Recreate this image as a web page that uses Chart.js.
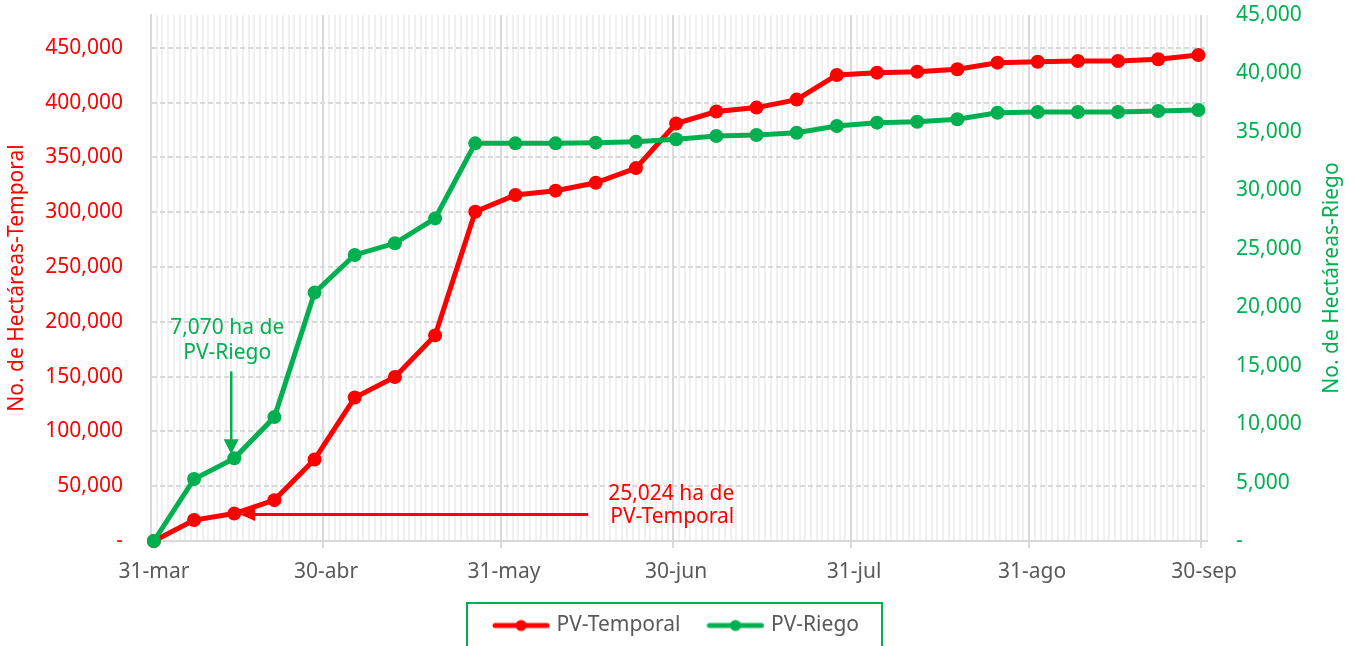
<!DOCTYPE html>
<html>
<head>
<meta charset="utf-8">
<script src="https://cdn.jsdelivr.net/npm/chart.js@4/dist/chart.umd.min.js"></script>
<style>
html,body{margin:0;padding:0;background:#ffffff;}
#wrap{width:1355px;height:646px;overflow:hidden;}
</style>
</head>
<body>
<div id="wrap"><canvas id="c" width="1355" height="646"></canvas></div>
<script>
// ---- data (days counted from 31-mar) ----
const monthEndDays   = [0, 30, 61, 91, 122, 153, 183];
const monthEndLabels = ['31-mar', '30-abr', '31-may', '30-jun', '31-jul', '31-ago', '30-sep'];
const pointDays = [0, 7, 14, 21, 28, 35, 42, 49, 56, 63, 70, 77, 84, 91, 98, 105, 112, 119, 126, 133, 140, 147, 154, 161, 168, 175, 182];
const temporal = [0, 19100, 25024, 37300, 74400, 130900, 149600, 187600, 300500, 315700, 319700, 326900, 340300, 381000, 391900, 395500, 402800, 425300, 427400, 428300, 430500, 436500, 437400, 438000, 438000, 439600, 443500];
const riego    = [0, 5300, 7070, 10600, 21250, 24470, 25470, 27600, 34020, 34020, 34020, 34080, 34160, 34370, 34650, 34730, 34930, 35500, 35790, 35870, 36080, 36640, 36700, 36700, 36700, 36790, 36870];
const leftTicks  = [0, 50000, 100000, 150000, 200000, 250000, 300000, 350000, 400000, 450000];
const rightTicks = [0, 5000, 10000, 15000, 20000, 25000, 30000, 35000, 40000, 45000];
const seriesNames = ['PV-Temporal', 'PV-Riego'];
const leftAxisTitle = 'No. de Hectáreas-Temporal';
const rightAxisTitle = 'No. de Hectáreas-Riego';
const noteRiego = {day: 14, value: 7070, lines: ['7,070 ha de', 'PV-Riego']};
const noteTemporal = {day: 14, value: 25024, lines: ['25,024 ha de', 'PV-Temporal']};

const RED = '#ff0000', GREEN = '#00b050', GRAY = '#595959', GRID = '#d9d9d9', MINOR = '#f0f0f0';
const FONT = "'Noto Sans', 'Open Sans', sans-serif";
const FS = 21;
Chart.defaults.font.family = FONT;
Chart.defaults.font.size = FS;

const monthEndSet = new Set(monthEndDays);
const fmt = v => v === 0 ? '-' : Number(v).toLocaleString('en-US');

function legendImg(color) {
  const c = document.createElement('canvas');
  c.width = 58; c.height = 14;
  const g = c.getContext('2d');
  g.strokeStyle = color; g.lineWidth = 5; g.lineCap = 'round';
  g.beginPath(); g.moveTo(3, 7); g.lineTo(55, 7); g.stroke();
  g.fillStyle = color;
  g.beginPath(); g.arc(29, 7, 5.5, 0, Math.PI * 2); g.fill();
  return c;
}
const legendImgs = [legendImg(RED), legendImg(GREEN)];

const isMajor = v => monthEndSet.has(Math.round(v + 0.5));

const annotPlugin = {
  id: 'annot',
  afterDraw(chart) {
    const ctx = chart.ctx;
    const xs = chart.scales.x, yl = chart.scales.y, yr = chart.scales.y1;
    const area = chart.chartArea;
    ctx.save();
    // green note
    let px = xs.getPixelForValue(noteRiego.day), py = yr.getPixelForValue(noteRiego.value);
    ctx.strokeStyle = GREEN; ctx.fillStyle = GREEN; ctx.lineWidth = 2.5;
    const ax = px - 3;
    ctx.beginPath(); ctx.moveTo(ax, py - 87); ctx.lineTo(ax, py - 16); ctx.stroke();
    ctx.beginPath(); ctx.moveTo(ax - 7.5, py - 19); ctx.lineTo(ax + 7.5, py - 19); ctx.lineTo(ax, py - 4); ctx.closePath(); ctx.fill();
    ctx.font = FS + 'px ' + FONT; ctx.textAlign = 'center'; ctx.textBaseline = 'middle';
    ctx.fillText(noteRiego.lines[0], px - 7, py - 130);
    ctx.fillText(noteRiego.lines[1], px - 7, py - 105);
    // red note
    px = xs.getPixelForValue(noteTemporal.day); py = yl.getPixelForValue(noteTemporal.value);
    ctx.strokeStyle = RED; ctx.fillStyle = RED; ctx.lineWidth = 3;
    const ay = py + 1;
    ctx.beginPath(); ctx.moveTo(px + 354, ay); ctx.lineTo(px + 18, ay); ctx.stroke();
    ctx.beginPath(); ctx.moveTo(px + 21, ay - 6.5); ctx.lineTo(px + 21, ay + 6.5); ctx.lineTo(px + 6, ay); ctx.closePath(); ctx.fill();
    ctx.fillText(noteTemporal.lines[0], px + 437, py - 20);
    ctx.fillText(noteTemporal.lines[1], px + 438, py + 3);
    // right axis title (reads bottom to top)
    ctx.fillStyle = GREEN;
    ctx.translate(yr.right - 23, (area.top + area.bottom) / 2);
    ctx.rotate(-Math.PI / 2);
    ctx.fillText(rightAxisTitle, 0, 0);
    ctx.restore();
    // legend frame
    const lg = chart.legend;
    if (lg && lg.legendHitBoxes && lg.legendHitBoxes.length) {
      const hb = lg.legendHitBoxes;
      const l = Math.min(...hb.map(h => h.left));
      const r = Math.max(...hb.map(h => h.left + h.width));
      const cx = (l + r) / 2 - 3;
      ctx.save();
      ctx.strokeStyle = GREEN; ctx.lineWidth = 2;
      ctx.strokeRect(cx - 207.5, lg.top + 18, 415, 80);
      ctx.restore();
    }
  }
};

new Chart(document.getElementById('c'), {
  type: 'line',
  data: {
    datasets: [
      {
        label: seriesNames[0],
        data: pointDays.map((d, i) => ({x: d, y: temporal[i]})),
        yAxisID: 'y',
        borderColor: RED, backgroundColor: RED,
        pointBackgroundColor: RED, pointBorderWidth: 0,
        borderWidth: 5, pointRadius: 7, tension: 0, clip: false, order: 2
      },
      {
        label: seriesNames[1],
        data: pointDays.map((d, i) => ({x: d, y: riego[i]})),
        yAxisID: 'y1',
        borderColor: GREEN, backgroundColor: GREEN,
        pointBackgroundColor: GREEN, pointBorderWidth: 0,
        borderWidth: 5, pointRadius: 7, tension: 0, clip: false, order: 1
      }
    ]
  },
  options: {
    responsive: false,
    animation: false,
    devicePixelRatio: 1,
    layout: {padding: {top: 15, left: 0, right: 0, bottom: 0}},
    plugins: {
      tooltip: {enabled: false},
      legend: {
        position: 'bottom',
        labels: {
          usePointStyle: true,
          pointStyleWidth: 50,
          padding: 30,
          color: GRAY,
          font: {size: FS, family: FONT},
          generateLabels: (chart) => chart.data.datasets.map((ds, i) => ({
            text: ds.label, fillStyle: ds.borderColor, strokeStyle: ds.borderColor,
            lineWidth: 0, pointStyle: legendImgs[i], datasetIndex: i, hidden: false, fontColor: GRAY
          }))
        }
      }
    },
    scales: {
      x: {
        type: 'linear',
        min: -0.5,
        max: 183.5,
        afterBuildTicks: (axis) => {
          const t = [];
          for (let k = 0; k <= 184; k++) t.push({value: k - 0.5});
          axis.ticks = t;
        },
        afterFit: (s) => { s.height = 44; },
        ticks: {
          autoSkip: false,
          maxRotation: 0, minRotation: 0,
          color: GRAY,
          padding: 11,
          labelOffset: 2.9,
          font: {size: FS, family: FONT},
          callback: (v) => {
            const k = Math.round(v + 0.5);
            const idx = monthEndDays.indexOf(k);
            return idx >= 0 ? monthEndLabels[idx] : '';
          }
        },
        grid: {
          color: (c) => (c.tick && isMajor(c.tick.value)) ? GRID : MINOR,
          lineWidth: 2,
          tickLength: 7,
          tickColor: (c) => (c.tick && isMajor(c.tick.value)) ? GRID : 'rgba(0,0,0,0)'
        },
        border: {display: true, color: GRID, width: 2}
      },
      y: {
        position: 'left',
        min: 0, max: 480000,
        afterBuildTicks: (axis) => { axis.ticks = leftTicks.map(v => ({value: v})); },
        afterFit: (s) => { s.width = 151; s.paddingTop = 12; s.paddingBottom = 12; },
        ticks: {color: RED, padding: 28, callback: fmt, font: {size: FS, family: FONT}},
        grid: {color: GRID, lineWidth: 2, drawTicks: false},
        border: {display: true, color: GRID, width: 2, dash: [5, 3]},
        title: {display: true, text: leftAxisTitle, color: RED, font: {size: FS, family: FONT}, padding: {top: 4, bottom: 0}}
      },
      y1: {
        position: 'right',
        min: 0, max: 45000,
        afterBuildTicks: (axis) => { axis.ticks = rightTicks.map(v => ({value: v})); },
        afterFit: (s) => { s.width = 148; s.paddingTop = 12; s.paddingBottom = 12; },
        ticks: {color: GREEN, padding: 29, callback: fmt, font: {size: FS, family: FONT}},
        grid: {display: false, drawTicks: false},
        border: {display: false}
      }
    }
  },
  plugins: [annotPlugin]
});
</script>
</body>
</html>
